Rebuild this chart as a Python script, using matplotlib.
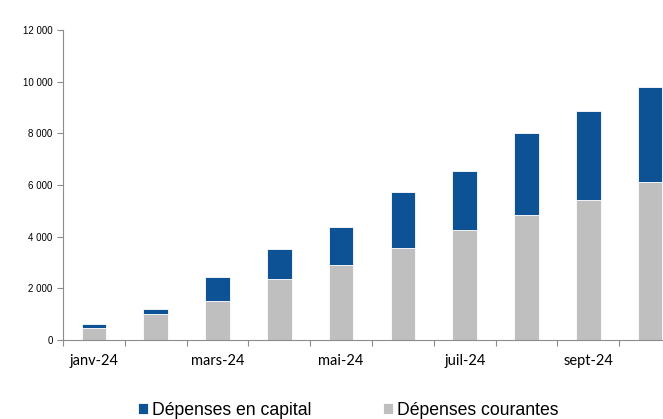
"""
    Stacked monthly expenditure bars (cumulative, 2024).
"""

import numpy as np
import matplotlib.pyplot as plt
from matplotlib.ticker import FuncFormatter

months = ["janv-24", "févr-24", "mars-24", "avr-24", "mai-24", "juin-24",
          "juil-24", "août-24", "sept-24", "oct-24"]
courantes = [475, 1015, 1510, 2360, 2900, 3560, 4260, 4850, 5410, 6100]
totals = [605, 1210, 2440, 3520, 4370, 5730, 6540, 8000, 8880, 9790]
capital = [t - c for t, c in zip(totals, courantes)]

BLUE = "#0c5294"
GREY = "#bfbfbf"
AXIS = "#8c8c8c"


def main():
    fig = plt.figure(figsize=(6.63, 4.19), dpi=100)
    # the plot area runs past the right edge of the picture, like the source
    ax = fig.add_axes([63/663, 79/419, 618/663, 310/419])

    x = np.arange(len(months))
    ax.bar(x, courantes, width=0.4, color=GREY, edgecolor="white",
           linewidth=0.6, label="Dépenses courantes", zorder=2)
    ax.bar(x, capital, bottom=courantes, width=0.4, color=BLUE,
           edgecolor="white", linewidth=0.6, label="Dépenses en capital", zorder=2)

    ax.set_xlim(-0.5, len(months) - 0.5)
    ax.set_ylim(0, 12000)
    ax.set_yticks(np.arange(0, 12001, 2000))
    ax.yaxis.set_major_formatter(
        FuncFormatter(lambda v, p: f"{int(v):,}".replace(",", " ")))

    # ticks on category boundaries, labels on every other month
    ax.set_xticks(np.arange(-0.5, len(months)), minor=False)
    ax.set_xticklabels([])
    ax.set_xticks(x[::2], minor=True)
    ax.set_xticklabels(months[::2], minor=True, fontfamily="Lato", fontsize=10.5)
    ax.tick_params(axis="x", which="minor", length=0, pad=10)
    ax.tick_params(axis="x", which="major", length=4, color=AXIS, width=0.8)
    ax.tick_params(axis="y", length=4, color=AXIS, width=0.8, labelsize=7)
    for lbl in ax.get_yticklabels():
        lbl.set_fontfamily("Liberation Sans")

    for side in ["top", "right"]:
        ax.spines[side].set_visible(False)
    for side in ["left", "bottom"]:
        ax.spines[side].set_color(AXIS)
        ax.spines[side].set_linewidth(0.8)

    handles, labels = ax.get_legend_handles_labels()
    fig.legend(handles[::-1], labels[::-1], loc="center left",
               bbox_to_anchor=(138/663, 1 - 410/419), ncol=2, frameon=False,
               prop={"family": "Liberation Sans", "size": 12.7},
               borderpad=0, borderaxespad=0,
               handlelength=0.57, handleheight=0.57, handletextpad=0.2,
               columnspacing=4.1)

    fig.savefig("out.png", dpi=100)


if __name__ == "__main__":
    main()
